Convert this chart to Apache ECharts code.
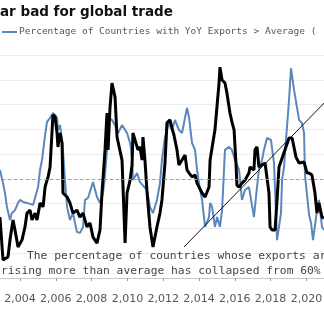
<!DOCTYPE html>
<html><head><meta charset="utf-8">
<script src="https://cdn.jsdelivr.net/npm/echarts@6/dist/echarts.min.js"></script>
<style>html,body{margin:0;padding:0;background:#fff}#c{width:324px;height:328px}</style>
</head><body><div id="c"></div>
<script>
const titleText = "ar bad for global trade";
const legendText = "Percentage of Countries with YoY Exports > Average (";
const noteLine1 = "The percentage of countries whose exports are";
const noteLine2 = "rising more than average has collapsed from 60%";
const xTicks = [2002, 2022, 2];
const avgLevel = 40;

const blueYears = [2002.88,2003.05,2003.16,2003.27,2003.44,2003.55,2003.72,2003.89,2004.00,2004.11,2004.17,2004.39,2004.73,2005.01,2005.12,2005.23,2005.40,2005.51,2005.68,2005.84,2005.96,2006.07,2006.12,2006.24,2006.35,2006.40,2006.51,2006.63,2006.79,2006.96,2007.18,2007.35,2007.52,2007.63,2007.80,2008.08,2008.30,2008.47,2008.64,2008.75,2008.86,2008.92,2009.14,2009.31,2009.48,2009.70,2009.76,2009.98,2010.15,2010.26,2010.31,2010.54,2010.70,2011.10,2011.26,2011.43,2011.65,2011.82,2011.93,2012.10,2012.32,2012.49,2012.66,2012.88,2013.05,2013.33,2013.44,2013.61,2013.78,2013.89,2014.00,2014.17,2014.34,2014.56,2014.62,2014.73,2014.89,2015.01,2015.17,2015.29,2015.45,2015.68,2015.84,2016.01,2016.24,2016.40,2016.57,2016.79,2017.07,2017.24,2017.35,2017.52,2017.63,2017.80,2018.02,2018.19,2018.36,2018.58,2018.64,2018.75,2018.86,2019.03,2019.14,2019.31,2019.59,2019.75,2019.87,2019.92,2020.15,2020.26,2020.37,2020.54,2020.70,2020.87,2020.98];
const blueValues = [43.6,38.3,34.3,28.7,23.4,26.2,27.4,30.3,31.5,32.3,30.7,30.3,29.5,36.7,43.6,47.6,57.7,63.0,64.6,66.6,65.8,64.6,59.7,61.7,60.9,51.7,39.5,28.7,23.4,26.2,18.6,18.2,20.6,31.5,32.3,38.7,32.7,30.3,34.3,41.6,51.7,65.0,63.8,61.7,58.5,61.7,62.1,58.5,54.5,48.4,39.5,42.4,38.7,35.5,28.7,26.2,31.5,38.3,47.6,56.9,62.6,59.7,63.8,59.7,58.5,68.6,65.0,54.5,51.7,43.6,38.3,31.5,20.6,24.6,30.3,28.7,20.6,24.6,20.6,27.4,51.7,52.9,51.7,47.6,43.6,31.5,35.5,36.7,24.6,36.7,43.6,47.6,51.7,56.5,55.7,46.4,15.3,26.2,39.5,44.8,55.7,71.8,84.7,75.9,63.8,62.6,58.5,41.6,25.4,22.2,15.3,24.6,31.5,20.6,19.4];

const blackYears = [2002.88,2003.05,2003.33,2003.44,2003.61,2003.72,2003.89,2004.11,2004.28,2004.39,2004.56,2004.67,2004.84,2004.95,2005.12,2005.29,2005.40,2005.51,2005.57,2005.68,2005.84,2005.96,2006.07,2006.12,2006.24,2006.35,2006.40,2006.63,2006.79,2006.96,2007.18,2007.35,2007.52,2007.74,2007.91,2008.08,2008.30,2008.47,2008.58,2008.75,2008.86,2008.92,2009.03,2009.14,2009.20,2009.31,2009.42,2009.48,2009.70,2009.87,2009.98,2010.15,2010.26,2010.31,2010.54,2010.59,2010.70,2010.82,2010.87,2010.98,2011.10,2011.26,2011.43,2011.65,2011.82,2011.93,2012.10,2012.21,2012.38,2012.49,2012.60,2012.77,2012.88,2013.05,2013.22,2013.33,2013.44,2013.61,2013.78,2013.89,2014.00,2014.17,2014.34,2014.56,2014.62,2014.89,2015.12,2015.17,2015.29,2015.40,2015.45,2015.56,2015.73,2015.84,2015.96,2016.07,2016.12,2016.24,2016.40,2016.57,2016.79,2016.85,2017.07,2017.13,2017.24,2017.35,2017.69,2017.91,2017.97,2018.08,2018.25,2018.36,2018.47,2018.80,2019.03,2019.20,2019.42,2019.59,2019.87,2020.03,2020.15,2020.31,2020.48,2020.59,2020.70,2020.87,2020.98];
const blackValues = [24.6,7.3,8.5,15.3,23.4,19.4,12.5,15.3,20.6,26.2,27.4,23.4,26.2,23.4,30.3,28.7,36.7,39.5,40.8,44.8,65.8,65.0,58.5,52.9,58.5,54.5,34.3,32.7,30.3,26.2,27.4,24.6,26.2,20.6,22.2,16.5,14.1,19.4,34.3,51.7,66.6,51.7,69.0,78.7,77.9,73.0,56.9,57.7,47.6,14.1,34.3,39.5,45.6,58.5,52.9,51.7,52.9,47.6,56.9,47.6,34.3,20.6,12.5,20.6,26.2,31.5,46.4,62.6,63.8,60.5,57.7,51.7,45.6,47.6,49.6,43.6,42.4,40.8,41.6,38.3,38.7,34.3,32.7,36.7,47.6,59.7,78.7,85.1,79.9,80.7,78.7,74.7,66.6,63.0,59.7,45.6,37.5,36.7,38.3,39.5,42.4,44.8,43.6,51.7,52.9,44.8,46.4,34.3,20.6,19.4,19.4,31.5,44.8,51.7,56.5,56.5,48.8,46.4,46.8,42.4,42.4,41.6,34.3,26.2,30.3,24.6,24.2];

const zip = (a, b) => a.map((v, i) => [v, b[i]]);
const chart = echarts.init(document.getElementById('c'), null, {renderer: 'canvas'});
chart.setOption({
  animation: false,
  backgroundColor: '#ffffff',
  grid: {left: -15.8, right: -18.2, top: 55, bottom: 50, containLabel: false, outerBoundsMode: 'none'},
  legend: {
    data: [legendText], left: 2, top: 27, itemWidth: 15, itemHeight: 2, itemGap: 4,
    icon: 'rect', padding: 0,
    textStyle: {fontFamily: 'DejaVu Sans Mono', fontSize: 9.5, color: '#555', padding: [0,0,0,-3]}
  },
  xAxis: {
    type: 'value', min: xTicks[0], max: xTicks[1], interval: xTicks[2], offset: 9,
    axisLine: {show: true, lineStyle: {color: '#c8c8c8', width: 1}},
    axisTick: {show: true, length: 3, lineStyle: {color: '#999'}},
    axisLabel: {color: '#555', fontFamily: 'DejaVu Sans', fontSize: 11, margin: 7},
    splitLine: {show: false}
  },
  yAxis: {
    type: 'value', min: 0, max: 90, interval: 10,
    axisLabel: {show: false}, axisLine: {show: false}, axisTick: {show: false},
    splitLine: {show: true, lineStyle: {color: '#ececec', width: 1}}
  },
  series: [
    {name: legendText, type: 'line', data: zip(blueYears, blueValues), showSymbol: false,
     lineStyle: {color: '#5b87bd', width: 2}, itemStyle: {color: '#5b87bd'}, z: 3,
     markLine: {silent: true, symbol: 'none', label: {show: false},
       lineStyle: {color: '#9a9a9a', type: [3, 3], width: 1}, data: [{yAxis: avgLevel}]}},
    {name: 'black', type: 'line', data: zip(blackYears, blackValues), showSymbol: false,
     lineStyle: {color: '#000', width: 3}, itemStyle: {color: '#000'}, z: 4}
  ],
  graphic: [
    {type: 'text', left: 0, top: 5, style: {text: titleText, fontFamily: 'DejaVu Sans', fontWeight: 'bold', fontSize: 13.5, fill: '#111'}},
    {type: 'line', shape: {x1: 184, y1: 247, x2: 330, y2: 97}, style: {stroke: '#111', lineWidth: 1}, z: 10},
    {type: 'text', left: 27, top: 251, style: {text: noteLine1, fontFamily: 'DejaVu Sans Mono', fontSize: 11.3, fill: '#444'}, z: 10},
    {type: 'text', left: 1, top: 266, style: {text: noteLine2, fontFamily: 'DejaVu Sans Mono', fontSize: 11.3, fill: '#444'}, z: 10}
  ]
});
</script></body></html>
